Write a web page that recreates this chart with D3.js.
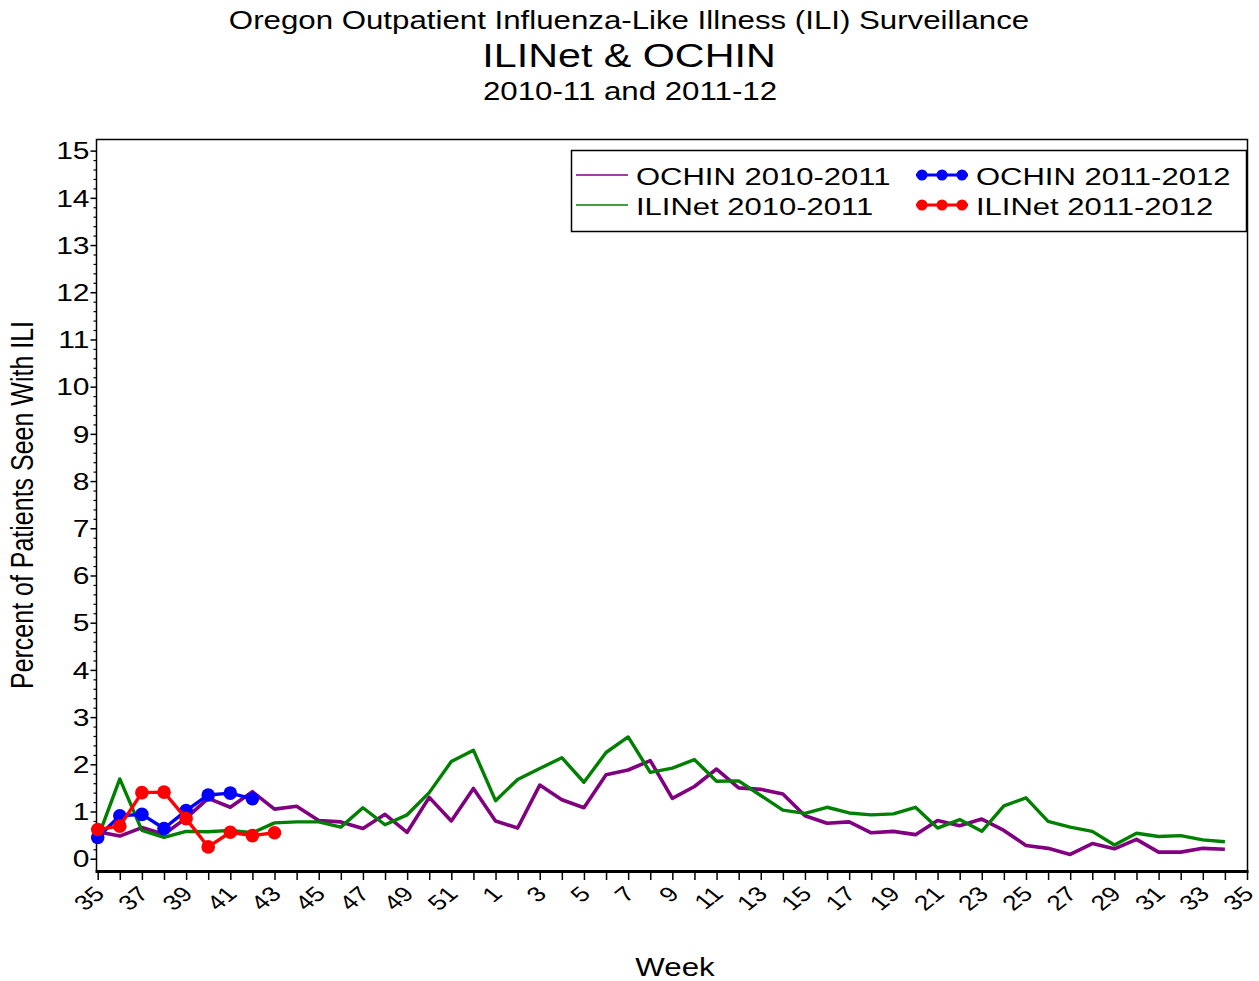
<!DOCTYPE html>
<html>
<head>
<meta charset="utf-8">
<script src="https://cdn.jsdelivr.net/npm/d3@7"></script>
<style>
  html, body { margin: 0; padding: 0; background: #fff; }
  svg { display: block; font-family: "Liberation Sans", Arial, sans-serif; }
</style>
</head>
<body>
<svg id="chart" width="1259" height="981"></svg>
<script>
// ---------- DATA ----------
const weekLabels = [35,36,37,38,39,40,41,42,43,44,45,46,47,48,49,50,51,52,
  1,2,3,4,5,6,7,8,9,10,11,12,13,14,15,16,17,18,19,20,21,22,23,24,25,26,27,28,29,30,31,32,33,34,35];

const ochin1011 = [0.57,0.48,0.66,0.52,0.86,1.28,1.09,1.42,1.05,1.11,0.81,0.78,0.64,0.94,0.56,1.30,0.80,1.49,
  0.80,0.65,1.56,1.25,1.08,1.78,1.88,2.08,1.28,1.53,1.90,1.50,1.47,1.37,0.91,0.75,0.78,0.55,0.58,0.51,
  0.81,0.70,0.84,0.60,0.28,0.22,0.09,0.32,0.21,0.41,0.14,0.14,0.22,0.20];

const ilinet1011 = [0.43,1.69,0.60,0.45,0.58,0.57,0.60,0.55,0.76,0.78,0.78,0.67,1.08,0.72,0.93,1.40,2.06,2.30,
  1.23,1.68,1.91,2.14,1.62,2.25,2.58,1.83,1.92,2.10,1.64,1.65,1.34,1.03,0.96,1.09,0.97,0.93,0.95,1.09,
  0.65,0.83,0.58,1.12,1.29,0.79,0.67,0.58,0.29,0.54,0.47,0.49,0.40,0.36];

const ochin1112 = [0.45,0.91,0.94,0.64,1.02,1.35,1.39,1.27];
const ilinet1112 = [0.62,0.69,1.40,1.41,0.85,0.25,0.56,0.49,0.55];

const yTicks = [0,1,2,3,4,5,6,7,8,9,10,11,12,13,14,15];

const seriesInfo = [
  {name: "OCHIN 2010-2011", values: ochin1011, color: "#800080", width: 3.6, markers: false},
  {name: "ILINet 2010-2011", values: ilinet1011, color: "#008000", width: 3.4, markers: false},
  {name: "OCHIN 2011-2012", values: ochin1112, color: "#0000ff", width: 3.4, markers: true},
  {name: "ILINet 2011-2012", values: ilinet1112, color: "#ff0000", width: 3.4, markers: true}
];

// ---------- LAYOUT ----------
const SX = 1.25; // horizontal stretch of the reference text
const svg = d3.select("#chart");
svg.append("rect").attr("width", 1259).attr("height", 981).attr("fill", "#fff");

const x = d3.scaleLinear().domain([0, weekLabels.length - 1]).range([97.7, 1247]);
const y = d3.scaleLinear().domain([-0.26, 15.24]).range([871, 139.3]);

const pLeft = 96.5, pRight = 1247.5, pTop = 139.5, pBottom = 871;

// titles
function sText(txt, tx, ty, size, anchor) {
  return svg.append("text")
    .attr("transform", `translate(${tx},${ty}) scale(${SX},1)`)
    .attr("text-anchor", anchor || "middle")
    .attr("font-size", size)
    .attr("fill", "#000")
    .text(txt);
}
sText("Oregon Outpatient Influenza-Like Illness (ILI) Surveillance", 629, 29, 25);
sText("ILINet & OCHIN", 629, 67, 33);
sText("2010-11 and 2011-12", 630, 100, 25);

// axis titles
sText("Week", 675, 976, 25);
svg.append("text")
  .attr("transform", `translate(33,505) scale(${SX},1) rotate(-90)`)
  .attr("text-anchor", "middle")
  .attr("font-size", 25)
  .text("Percent of Patients Seen With ILI");

// y axis
const yAxis = svg.append("g").attr("transform", `translate(${pLeft},0)`)
  .call(d3.axisLeft(y).tickValues(yTicks).tickSize(6).tickFormat(d3.format("d")));
yAxis.select(".domain").remove();
yAxis.selectAll(".tick line").attr("stroke", "#000").attr("stroke-width", 1.5);
yAxis.selectAll(".tick text")
  .attr("x", -5.6).attr("dy", "0.34em")
  .attr("transform", `scale(${SX},1)`)
  .attr("font-size", 24).attr("font-family", "Liberation Sans, Arial, sans-serif").attr("fill", "#000");

const minorVals = d3.range(0, 15.0001, 0.2).filter(v => Math.abs(v - Math.round(v)) > 1e-6);
const yMinor = svg.append("g").attr("transform", `translate(${pLeft},0)`)
  .call(d3.axisLeft(y).tickValues(minorVals).tickSize(3).tickFormat(""));
yMinor.select(".domain").remove();
yMinor.selectAll(".tick line").attr("stroke", "#000").attr("stroke-width", 1.2);

// x axis
const xAxis = svg.append("g").attr("transform", `translate(0,${pBottom})`)
  .call(d3.axisBottom(x).tickValues(d3.range(0, weekLabels.length)).tickSize(9)
    .tickFormat(i => i % 2 === 0 ? String(weekLabels[i]) : ""));
xAxis.select(".domain").remove();
xAxis.selectAll(".tick line").attr("stroke", "#000").attr("stroke-width", 1.5);
xAxis.selectAll(".tick text")
  .attr("x", 0).attr("y", 0).attr("dy", "0.35em")
  .attr("text-anchor", "end")
  .attr("transform", `translate(1,19) scale(${SX},1) rotate(-45)`)
  .attr("font-size", 21).attr("font-family", "Liberation Sans, Arial, sans-serif").attr("fill", "#000");

// frame
svg.append("path")
  .attr("d", `M${pLeft},${pBottom} V${pTop} H${pRight} V${pBottom}`)
  .attr("fill", "none").attr("stroke", "#000").attr("stroke-width", 1.5);
svg.append("line")
  .attr("x1", pLeft - 1).attr("x2", pRight + 1).attr("y1", pBottom + 0.5).attr("y2", pBottom + 0.5)
  .attr("stroke", "#000").attr("stroke-width", 3);

// series
const line = d3.line().x((d, i) => x(i)).y(d => y(d));
seriesInfo.forEach(s => {
  svg.append("path")
    .attr("d", line(s.values))
    .attr("fill", "none")
    .attr("stroke", s.color)
    .attr("stroke-width", s.width)
    .attr("stroke-linejoin", "round");
  if (s.markers) {
    svg.append("g").selectAll("circle").data(s.values).join("circle")
      .attr("cx", (d, i) => x(i)).attr("cy", d => y(d)).attr("r", 6.8)
      .attr("fill", s.color);
  }
});

// legend
const lg = svg.append("g");
lg.append("rect").attr("x", 571.5).attr("y", 150.5).attr("width", 675).attr("height", 81)
  .attr("fill", "#fff").attr("stroke", "#000").attr("stroke-width", 1.5);
const legendPos = [
  {lx: 576, ty: 185, ly: 175, tx: 636},
  {lx: 576, ty: 215, ly: 205, tx: 636},
  {lx: 916, ty: 185, ly: 175, tx: 976},
  {lx: 916, ty: 215, ly: 205, tx: 976}
];
seriesInfo.forEach((s, k) => {
  const p = legendPos[k];
  lg.append("line").attr("x1", p.lx).attr("x2", p.lx + 52).attr("y1", p.ly).attr("y2", p.ly)
    .attr("stroke", s.color).attr("stroke-width", s.markers ? 3 : 1.5);
  if (s.markers) {
    [p.lx + 6, p.lx + 26, p.lx + 46].forEach(cx =>
      lg.append("circle").attr("cx", cx).attr("cy", p.ly).attr("r", 5.5).attr("fill", s.color));
  }
  lg.append("text")
    .attr("transform", `translate(${p.tx},${p.ty}) scale(${SX},1)`)
    .attr("font-size", 24.8).attr("fill", "#000")
    .text(s.name);
});
</script>
</body>
</html>
